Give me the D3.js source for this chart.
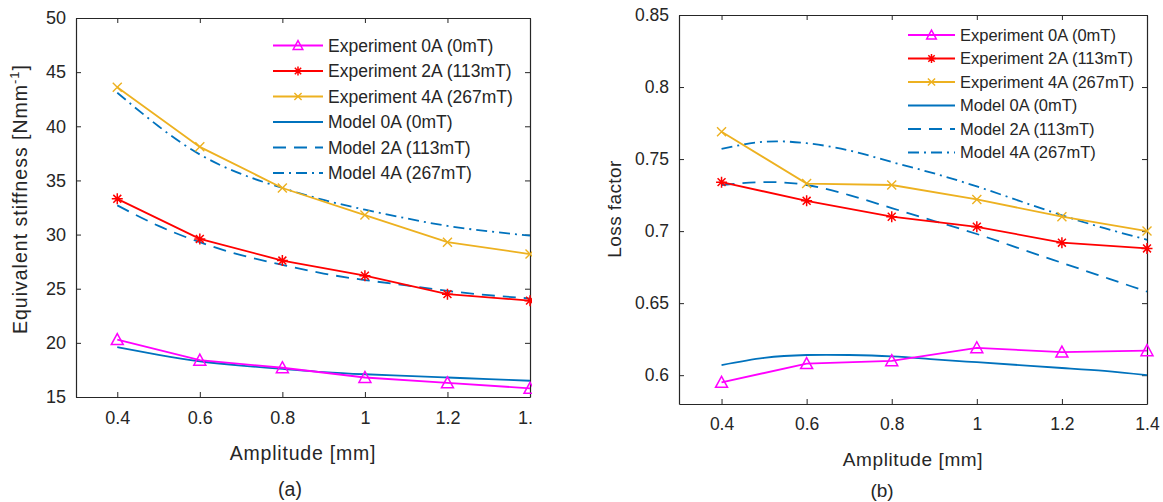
<!DOCTYPE html>
<html>
<head>
<meta charset="utf-8">
<script src="https://cdn.jsdelivr.net/npm/d3@7"></script>
<style>
  html, body { margin: 0; padding: 0; background: #fff; }
  svg { display: block; }
  text { font-family: "Liberation Sans", Arial, Helvetica, sans-serif; fill: #262626; }
</style>
</head>
<body>
<svg id="chart" width="1163" height="502"></svg>
<script>
// ---------------- DATA ----------------
const amplitude = [0.4, 0.6, 0.8, 1.0, 1.2, 1.4];
const amplitudeModel = [0.4, 0.5, 0.6, 0.7, 0.8, 0.9, 1.0, 1.1, 1.2, 1.3, 1.4];

// (a) Equivalent stiffness [N/mm]
const stiffExp0A = [20.3, 18.4, 17.7, 16.8, 16.3, 15.8];
const stiffExp2A = [33.3, 29.6, 27.6, 26.2, 24.5, 23.9];
const stiffExp4A = [43.6, 38.1, 34.3, 31.8, 29.3, 28.2];
const stiffModel0A = [19.6, 18.9, 18.3, 17.9, 17.6, 17.3, 17.1, 16.95, 16.8, 16.65, 16.5];
const stiffModel2A = [32.7, 30.8, 29.3, 28.1, 27.2, 26.4, 25.8, 25.3, 24.8, 24.4, 24.1];
const stiffModel4A = [43.1, 40.0, 37.4, 35.6, 34.3, 33.2, 32.3, 31.5, 30.8, 30.3, 29.9];

// (b) Loss factor
const lossExp0A = [0.595, 0.608, 0.610, 0.619, 0.616, 0.617];
const lossExp2A = [0.734, 0.721, 0.710, 0.703, 0.692, 0.688];
const lossExp4A = [0.769, 0.733, 0.732, 0.722, 0.710, 0.700];
const lossModel0A = [0.607, 0.612, 0.614, 0.614, 0.613, 0.611, 0.609, 0.607, 0.605, 0.603, 0.600];
const lossModel2A = [0.732, 0.734, 0.732, 0.725, 0.716, 0.707, 0.698, 0.688, 0.678, 0.668, 0.658];
const lossModel4A = [0.757, 0.762, 0.761, 0.756, 0.748, 0.740, 0.731, 0.721, 0.711, 0.702, 0.694];

const seriesNames = ["Experiment 0A (0mT)", "Experiment 2A (113mT)", "Experiment 4A (267mT)",
                     "Model 0A (0mT)", "Model 2A (113mT)", "Model 4A (267mT)"];
const ampTicks = [0.4, 0.6, 0.8, 1.0, 1.2, 1.4];
const stiffTicks = [15, 20, 25, 30, 35, 40, 45, 50];
const lossTicks = [0.6, 0.65, 0.7, 0.75, 0.8, 0.85];
const xLabel = "Amplitude [mm]";

// ---------------- STYLE ----------------
const C = { mag: "#FF00FF", red: "#FF0000", ora: "#EDB120", blue: "#0072BD", axis: "#262626" };
const styles = [
  { color: C.mag, marker: "tri", dash: null },
  { color: C.red, marker: "star", dash: null },
  { color: C.ora, marker: "x", dash: null },
  { color: C.blue, marker: null, dash: null },
  { color: C.blue, marker: null, dash: "13,8" },
  { color: C.blue, marker: null, dash: "11,5,2,5" }
];

const svg = d3.select("#chart");

function drawMarker(g, type, color, x, y, s) {
  if (type === "tri") {
    const w = 6 * s, h = 11 * s;
    g.append("path")
      .attr("d", `M${x},${y - h * 0.55} L${x + w},${y + h * 0.45} L${x - w},${y + h * 0.45} Z`)
      .attr("fill", "none").attr("stroke", color).attr("stroke-width", 1.5);
  } else if (type === "star") {
    const r = 5.5 * s, d = r * 0.72;
    const p = `M${x},${y - r}L${x},${y + r}M${x - r},${y}L${x + r},${y}M${x - d},${y - d}L${x + d},${y + d}M${x - d},${y + d}L${x + d},${y - d}`;
    g.append("path").attr("d", p).attr("stroke", color).attr("stroke-width", 1.5).attr("fill", "none");
  } else if (type === "x") {
    const d = 4.5 * s;
    const p = `M${x - d},${y - d}L${x + d},${y + d}M${x - d},${y + d}L${x + d},${y - d}`;
    g.append("path").attr("d", p).attr("stroke", color).attr("stroke-width", 1.4).attr("fill", "none");
  }
}

function fmt(d) { return String(+d.toFixed(2)); }

function drawPanel(o) {
  const g = svg.append("g");
  if (o.clipRight) {
    svg.append("clipPath").attr("id", o.id + "clip").append("rect")
      .attr("x", 0).attr("y", 0).attr("width", o.clipRight).attr("height", 502);
    g.attr("clip-path", `url(#${o.id}clip)`);
  }
  const x = d3.scaleLinear().domain([0.3, 1.4]).range([o.left, o.right]);
  const y = d3.scaleLinear().domain(o.yDomain).range([o.bottom, o.top]);

  // axes
  const ax = g.append("g").attr("transform", `translate(0,${o.bottom})`)
    .call(d3.axisBottom(x).tickValues(ampTicks).tickFormat(fmt).tickSizeInner(-5).tickSizeOuter(0).tickPadding(14));
  const axT = g.append("g").attr("transform", `translate(0,${o.top})`)
    .call(d3.axisTop(x).tickValues(ampTicks).tickFormat("").tickSizeInner(-5).tickSizeOuter(0));
  const ay = g.append("g").attr("transform", `translate(${o.left},0)`)
    .call(d3.axisLeft(y).tickValues(o.yTicks).tickFormat(fmt).tickSizeInner(-5).tickSizeOuter(0).tickPadding(10));
  const ayR = g.append("g").attr("transform", `translate(${o.right},0)`)
    .call(d3.axisRight(y).tickValues(o.yTicks).tickFormat("").tickSizeInner(-5).tickSizeOuter(0));
  [ax, axT, ay, ayR].forEach(a => {
    a.selectAll(".domain").attr("stroke", C.axis).attr("stroke-width", 1.2);
    a.selectAll(".tick line").attr("stroke", C.axis).attr("stroke-width", 1);
    a.selectAll("text").attr("font-size", o.tickFont).attr("fill", "#404040")
      .attr("font-family", '"Liberation Sans", Arial, sans-serif');
  });
  ax.selectAll("text").attr("dy", "0.71em");

  // series
  const expSets = o.exp, modSets = o.model;
  const lineLin = d3.line().x(d => x(d[0])).y(d => y(d[1]));
  const lineSmooth = d3.line().x(d => x(d[0])).y(d => y(d[1])).curve(d3.curveNatural);

  modSets.forEach((vals, i) => {
    const st = styles[3 + i];
    g.append("path").datum(amplitudeModel.map((a, k) => [a, vals[k]]))
      .attr("d", lineSmooth).attr("fill", "none").attr("stroke", st.color)
      .attr("stroke-width", 1.8).attr("stroke-dasharray", st.dash);
  });
  expSets.forEach((vals, i) => {
    const st = styles[i];
    const pts = amplitude.map((a, k) => [a, vals[k]]);
    g.append("path").datum(pts).attr("d", lineLin).attr("fill", "none")
      .attr("stroke", st.color).attr("stroke-width", 1.8);
    pts.forEach(p => drawMarker(g, st.marker, st.color, x(p[0]), y(p[1]), 1));
  });

  // legend
  const lg = g.append("g");
  seriesNames.forEach((name, i) => {
    const st = styles[i];
    const yy = o.legY + i * o.legDy;
    lg.append("line").attr("x1", o.legX1).attr("x2", o.legX2).attr("y1", yy).attr("y2", yy)
      .attr("stroke", st.color).attr("stroke-width", 1.8).attr("stroke-dasharray", st.dash);
    if (st.marker) drawMarker(lg, st.marker, st.color, (o.legX1 + o.legX2) / 2, yy, 0.8);
    lg.append("text").attr("x", o.legX2 + 5).attr("y", yy).attr("dy", "0.35em")
      .attr("font-size", o.legFont).text(name);
  });

  // labels
  g.append("text").attr("x", (o.left + o.right) / 2).attr("y", o.xLabY)
    .attr("text-anchor", "middle").attr("font-size", o.labFont)
    .attr("letter-spacing", o.labSpacing).text(xLabel);
  g.append("text").attr("x", o.capX).attr("y", o.capY)
    .attr("text-anchor", "middle").attr("font-size", o.labFont).text(o.caption);
  const yl = g.append("text")
    .attr("transform", `translate(${o.yLabX},${o.yLabCenter}) rotate(-90)`)
    .attr("text-anchor", "middle").attr("font-size", o.labFont)
    .attr("letter-spacing", o.yLabSpacing);
  o.yLabel(yl);
}

drawPanel({
  id: "a", left: 76, right: 530, top: 18, bottom: 397, clipRight: 532,
  yDomain: [15, 50], yTicks: stiffTicks,
  exp: [stiffExp0A, stiffExp2A, stiffExp4A], model: [stiffModel0A, stiffModel2A, stiffModel4A],
  tickFont: 18, labFont: 19.5, legFont: 17.5, labSpacing: 0.8, yLabSpacing: 1,
  legX1: 273, legX2: 323, legY: 45.5, legDy: 25.5,
  xLabY: 460, capX: 290, capY: 496, caption: "(a)", yLabX: 27, yLabCenter: 199,
  yLabel: t => {
    t.append("tspan").text("Equivalent stiffness [Nmm");
    t.append("tspan").attr("dy", -8).attr("font-size", 13).text("-1");
    t.append("tspan").attr("dy", 8).text("]");
  }
});

drawPanel({
  id: "b", left: 679, right: 1147, top: 15, bottom: 404, clipRight: null,
  yDomain: [0.58, 0.85], yTicks: lossTicks,
  exp: [lossExp0A, lossExp2A, lossExp4A], model: [lossModel0A, lossModel2A, lossModel4A],
  tickFont: 17.5, labFont: 19, legFont: 16.5, labSpacing: 0.6, yLabSpacing: 0.4,
  legX1: 908, legX2: 955, legY: 35, legDy: 23.5,
  xLabY: 466, capX: 882, capY: 497, caption: "(b)", yLabX: 621, yLabCenter: 209,
  yLabel: t => { t.text("Loss factor"); }
});
</script>
</body>
</html>
